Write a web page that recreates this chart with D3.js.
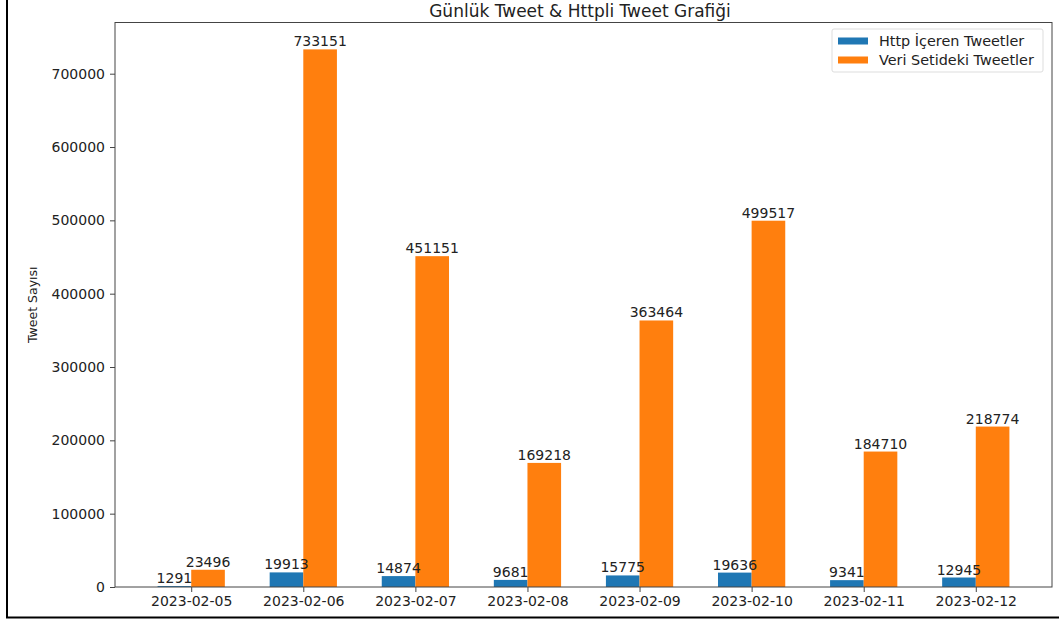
<!DOCTYPE html>
<html>
<head>
<meta charset="utf-8">
<script src="https://cdn.jsdelivr.net/npm/d3@7"></script>
<style>
  html, body { margin: 0; padding: 0; background: #fff; }
  svg { display: block; font-family: "DejaVu Sans", sans-serif; }
</style>
</head>
<body>
<svg id="chart" width="1059" height="623"></svg>
<script>
const dates = ["2023-02-05","2023-02-06","2023-02-07","2023-02-08","2023-02-09","2023-02-10","2023-02-11","2023-02-12"];
const httpTweets = [1291, 19913, 14874, 9681, 15775, 19636, 9341, 12945];
const allTweets = [23496, 733151, 451151, 169218, 363464, 499517, 184710, 218774];
const yTicks = [0, 100000, 200000, 300000, 400000, 500000, 600000, 700000];
const seriesNames = ["Http İçeren Tweetler", "Veri Setideki Tweetler"];
const seriesColors = ["#1f77b4", "#ff7f0e"];
const title = "Günlük Tweet & Httpli Tweet Grafiği";
const yLabel = "Tweet Sayısı";

const svg = d3.select("#chart");
const W = 1059, H = 623;
const m = {left: 115, right: 1052, top: 22.5, bottom: 587};

// outer frame lines (left & bottom visible)
svg.append("line").attr("x1", 7).attr("x2", 7).attr("y1", 0).attr("y2", 618)
  .attr("stroke", "#000").attr("stroke-width", 2);
svg.append("line").attr("x1", 6).attr("x2", W).attr("y1", 617.5).attr("y2", 617.5)
  .attr("stroke", "#000").attr("stroke-width", 2);

const bw = 0.3;
const n = dates.length;
const x = d3.scaleLinear().domain([-bw - 0.38, (n - 1) + bw + 0.38]).range([m.left, m.right]);
const yMax = d3.max(allTweets) * 1.05;
const y = d3.scaleLinear().domain([0, yMax]).range([m.bottom, m.top]);

const gBars = svg.append("g");
const gLabels = svg.append("g");

// bars
const series = [httpTweets, allTweets];
series.forEach((vals, si) => {
  const off = si === 0 ? -bw : 0;
  gBars.selectAll(".bar" + si).data(vals).enter().append("rect")
    .attr("x", (d, i) => x(i + off))
    .attr("width", (d, i) => x(i + off + bw) - x(i + off))
    .attr("y", d => y(d))
    .attr("height", d => y(0) - y(d))
    .attr("fill", seriesColors[si]);
  gLabels.selectAll(".lab" + si).data(vals).enter().append("text")
    .attr("x", (d, i) => x(i + off + bw / 2))
    .attr("y", d => y(d) - 3)
    .attr("text-anchor", "middle")
    .attr("font-size", "14px")
    .attr("fill", "#222")
    .text(d => d);
});

// axes
const xAxis = d3.axisBottom(x).tickValues(d3.range(n)).tickFormat(i => dates[i]).tickSize(5).tickPadding(4);
const yAxis = d3.axisLeft(y).tickValues(yTicks).tickFormat(d3.format("d")).tickSize(5).tickPadding(5);

const gx = svg.append("g").attr("transform", `translate(0,${m.bottom})`).call(xAxis);
const gy = svg.append("g").attr("transform", `translate(${m.left},0)`).call(yAxis);
[gx, gy].forEach(a => {
  a.select(".domain").remove();
  a.selectAll("line").attr("stroke", "#444");
  a.selectAll("text").attr("font-size", "14px").attr("fill", "#222").attr("font-family", "DejaVu Sans, sans-serif");
});

// plot frame
svg.append("rect").attr("x", m.left).attr("y", m.top)
  .attr("width", m.right - m.left).attr("height", m.bottom - m.top)
  .attr("fill", "none").attr("stroke", "#444").attr("stroke-width", 1);

// title
svg.append("text").attr("x", 580).attr("y", 16.5)
  .attr("text-anchor", "middle").attr("font-size", "17px").attr("fill", "#222").text(title);

// y label
svg.append("text").attr("transform", `translate(37,${(m.top + m.bottom) / 2}) rotate(-90)`)
  .attr("text-anchor", "middle").attr("font-size", "12.5px").attr("fill", "#222").text(yLabel);

// legend
const lg = svg.append("g");
lg.append("rect").attr("x", 832).attr("y", 29).attr("width", 211).attr("height", 43)
  .attr("rx", 2).attr("fill", "#fff").attr("stroke", "#ddd");
seriesNames.forEach((name, i) => {
  const yy = 37.5 + i * 19;
  lg.append("rect").attr("x", 838).attr("y", yy).attr("width", 30).attr("height", 7).attr("fill", seriesColors[i]);
  lg.append("text").attr("x", 879).attr("y", yy + 8.5).attr("font-size", "14.4px").attr("fill", "#222").text(name);
});
</script>
</body>
</html>
